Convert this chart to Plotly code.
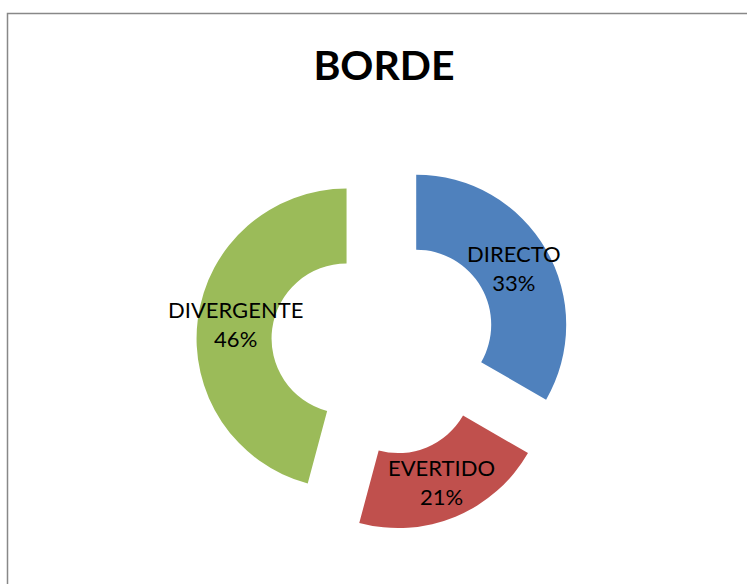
import math
import plotly.graph_objects as go

labels = ["DIRECTO", "EVERTIDO", "DIVERGENTE"]
values = [16, 10, 22]
colors = ["#4F81BD", "#C0504D", "#9BBB59"]
title_text = "BORDE"

W, H = 747, 584
pull = 0.25
hole = 0.5
dom_x = [0.2627, 0.7647]
dom_y = [0.0908, 0.733]

fig = go.Figure()
fig.add_trace(go.Pie(
    labels=labels, values=values, hole=hole, pull=[pull] * len(values),
    sort=False, direction="clockwise", rotation=0,
    marker=dict(colors=colors, line=dict(width=0)),
    textinfo="none", hoverinfo="label+percent",
    domain=dict(x=dom_x, y=dom_y), showlegend=False,
))

# label positions derived from the data through the pie geometry
dw = (dom_x[1] - dom_x[0]) * W
dh = (dom_y[1] - dom_y[0]) * H
R = min(dw, dh) / (2 * (1 + pull))
cx = (dom_x[0] + dom_x[1]) / 2 * W
cy = (dom_y[0] + dom_y[1]) / 2 * H
total = sum(values)
start = 0.0
for lab, v in zip(labels, values):
    span = v / total * 360
    mid = math.radians(start + span / 2)
    start += span
    rr = pull * R + R * (1 + hole) / 2
    px = cx + rr * math.sin(mid)
    py = cy + rr * math.cos(mid)
    pct = round(v / total * 100)
    fig.add_annotation(
        x=px / W, y=py / H, xref="paper", yref="paper",
        text=f"{lab}<br>{pct}%", showarrow=False,
        font=dict(family="Lato", size=22, color="#000000"),
        xanchor="center", yanchor="middle",
    )

fig.add_shape(type="rect", xref="paper", yref="paper",
              x0=7.5 / W, x1=1.05, y0=-0.05, y1=1 - 13.5 / H,
              line=dict(color="#888888", width=1.5))

fig.update_layout(
    width=W, height=H, margin=dict(l=0, r=0, t=0, b=0),
    paper_bgcolor="white", plot_bgcolor="white",
    title=dict(text=f"<b>{title_text}</b>", x=384 / W, xanchor="center",
               y=1 - 66 / H, yanchor="middle",
               font=dict(family="Lato", size=41, color="#000000")),
)
fig.write_html("out.html", config={"displayModeBar": False},
               post_script="document.body.style.margin='0px';document.body.style.overflow='hidden';")
